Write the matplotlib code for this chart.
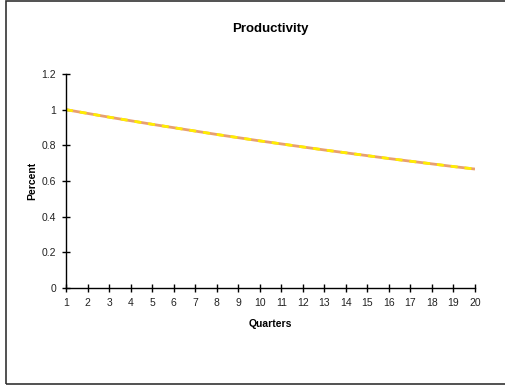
import matplotlib.pyplot as plt
from matplotlib.patches import Rectangle

plt.rcParams['font.family'] = ['Liberation Sans', 'DejaVu Sans']

# datos
quarters = list(range(1, 21))
productivity = [1.0, 0.979, 0.958, 0.938, 0.918, 0.899, 0.880, 0.861, 0.843, 0.825,
                0.808, 0.791, 0.774, 0.758, 0.742, 0.726, 0.711, 0.696, 0.681, 0.667]
yticks = [0, 0.2, 0.4, 0.6, 0.8, 1, 1.2]
ytick_labels = ['0', '0.2', '0.4', '0.6', '0.8', '1', '1.2']

fig = plt.figure(figsize=(5.05, 3.89), dpi=100)
ax = fig.add_axes([0.1307, 0.2596, 0.8099, 0.5502])

# linea a rayas rosa / amarillo estilo Excel
ax.plot(quarters, productivity, color='#e8a070', lw=2.0, solid_capstyle='butt')
ax.plot(quarters, productivity, color='#ffee00', lw=2.0, dashes=(2.5, 2.5))

ax.set_xlim(1, 20)
ax.set_ylim(0, 1.2)
ax.set_xticks(quarters)
ax.set_yticks(yticks)
ax.set_yticklabels(ytick_labels)

for s in ['top', 'right']:
    ax.spines[s].set_visible(False)
for s in ['left', 'bottom']:
    ax.spines[s].set_linewidth(1.0)

ax.tick_params(direction='inout', length=6, width=1, labelsize=7.5, pad=4,
               labelcolor='#222222')

ax.set_title('Productivity', fontsize=9.5, fontweight='bold', pad=30)
ax.set_xlabel('Quarters', fontsize=7.5, fontweight='bold', labelpad=8)
ax.set_ylabel('Percent', fontsize=7.5, fontweight='bold', labelpad=3)

# marco exterior
fig.patches.append(Rectangle((6 / 505, 5 / 389), 1.0, 383 / 389, transform=fig.transFigure,
                             fill=False, edgecolor='#333333', lw=1.2))

fig.savefig('out.png', dpi=100)
